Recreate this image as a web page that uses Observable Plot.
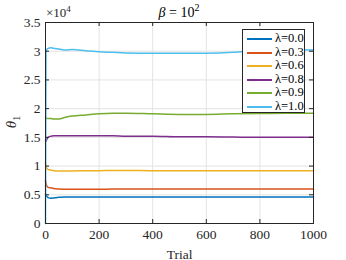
<!DOCTYPE html>
<html><head><meta charset="utf-8">
<script src="https://cdn.jsdelivr.net/npm/d3@7"></script>
<script src="https://cdn.jsdelivr.net/npm/@observablehq/plot@0.6"></script>
<style>
body{margin:0;background:#fff;}
#wrap{position:relative;width:346px;height:260px;font-family:"Liberation Serif","Times New Roman","DejaVu Serif",serif;color:#262626;}
#wrap svg text{font-family:"Liberation Serif","Times New Roman","DejaVu Serif",serif;}
.ov{position:absolute;white-space:nowrap;line-height:1;}
#title{left:0;width:358px;top:3px;text-align:center;font-size:14px;color:#000;}
#exp{left:46px;top:5px;font-size:13px;}
#ylab{left:7px;top:113px;font-size:15px;transform:rotate(-90deg);transform-origin:center;}
#legend{position:absolute;left:242px;top:29px;width:61px;height:82px;border:1px solid #262626;background:#fff;font-size:12.5px;}
.row{position:absolute;left:0;height:13px;width:61px;}
.row .sw{position:absolute;left:4px;top:6px;width:25px;height:0;border-top:2px solid;}
.row .lb{position:absolute;left:32px;top:0px;line-height:13px;color:#000;}
</style></head>
<body>
<div id="wrap"></div>
<script>
const trials = [0,2,5,10,20,30,50,75,100,150,200,250,300,400,500,600,700,800,900,1000];
const lambdas = ["λ=0.0","λ=0.3","λ=0.6","λ=0.8","λ=0.9","λ=1.0"];
const colors = ["#0072BD","#D95319","#EDB120","#7E2F8E","#77AC30","#4DBEEE"];
const theta_l00 = [0.50,0.49,0.47,0.45,0.44,0.445,0.455,0.46,0.46,0.46,0.46,0.46,0.46,0.46,0.46,0.46,0.46,0.46,0.46,0.46];
const theta_l03 = [0.75,0.70,0.65,0.63,0.62,0.61,0.60,0.595,0.595,0.595,0.595,0.60,0.60,0.60,0.60,0.60,0.60,0.60,0.60,0.60];
const theta_l06 = [1.05,1.00,0.96,0.94,0.93,0.92,0.915,0.915,0.915,0.92,0.92,0.925,0.925,0.92,0.92,0.92,0.92,0.92,0.92,0.92];
const theta_l08 = [1.45,1.43,1.47,1.50,1.52,1.53,1.53,1.53,1.53,1.53,1.53,1.53,1.52,1.52,1.51,1.51,1.505,1.50,1.50,1.50];
const theta_l09 = [1.85,1.84,1.83,1.83,1.83,1.82,1.82,1.85,1.87,1.89,1.91,1.92,1.92,1.91,1.90,1.90,1.91,1.915,1.92,1.92];
const theta_l10 = [0.00,3.00,3.03,3.05,3.06,3.05,3.04,3.02,3.03,3.01,2.99,2.98,2.97,2.965,2.965,2.965,2.98,3.02,3.03,3.02];
const xTicks = [0,200,400,600,800,1000];
const yTicks = [0,0.5,1,1.5,2,2.5,3,3.5];

const series = [theta_l00,theta_l03,theta_l06,theta_l08,theta_l09,theta_l10];
const rows = [];
series.forEach((vals,i)=>vals.forEach((v,j)=>rows.push({trial:trials[j],value:v,lambda:lambdas[i]})));

const chart = Plot.plot({
  width:346,height:260,marginLeft:45,marginRight:33,marginTop:22,marginBottom:37,
  style:{fontFamily:"Liberation Serif, Times New Roman, DejaVu Serif, serif",fontSize:"13.5px",color:"#262626",background:"white"},
  x:{domain:[0,1000]},
  y:{domain:[0,3.5]},
  color:{domain:lambdas,range:colors},
  marks:[
    Plot.gridX(xTicks,{stroke:"#e3e3e3",strokeOpacity:1}),
    Plot.gridY(yTicks,{stroke:"#e3e3e3",strokeOpacity:1}),
    Plot.lineY(rows,{x:"trial",y:"value",z:"lambda",stroke:"lambda",strokeWidth:1.5,curve:"monotone-x"}),
    Plot.tickX(xTicks,{x:d=>d,insetTop:197,stroke:"#262626"}),
    Plot.tickX(xTicks,{x:d=>d,insetBottom:197,stroke:"#262626"}),
    Plot.tickY(yTicks,{y:d=>d,insetRight:264,stroke:"#262626"}),
    Plot.tickY(yTicks,{y:d=>d,insetLeft:264,stroke:"#262626"}),
    Plot.frame({stroke:"#262626"}),
    Plot.axisX(xTicks,{tickSize:0,tickPadding:6,label:"Trial",labelArrow:"none",labelAnchor:"center",labelOffset:35,fill:"#262626",tickFormat:d=>String(d)}),
    Plot.axisY(yTicks,{tickSize:0,tickPadding:5,label:null,fill:"#262626",tickFormat:d=>String(d)})
  ]
});
const wrap = document.getElementById("wrap");
wrap.appendChild(chart);
wrap.insertAdjacentHTML("beforeend",
 `<div class="ov" id="title"><i>β</i> = 10<sup style="font-size:10px;vertical-align:6px;">2</sup></div>
  <div class="ov" id="exp">×10<sup style="font-size:9px;vertical-align:5px;">4</sup></div>
  <div class="ov" id="ylab"><i>θ</i><sub style="font-size:10px;">1</sub></div>`);
const leg = document.createElement("div");
leg.id="legend";
lambdas.forEach((l,i)=>{
  const r=document.createElement("div");r.className="row";r.style.top=(2+i*13.6)+"px";
  r.innerHTML=`<div class="sw" style="border-color:${colors[i]}"></div><div class="lb">${l}</div>`;
  leg.appendChild(r);
});
wrap.appendChild(leg);
</script>
</body></html>
